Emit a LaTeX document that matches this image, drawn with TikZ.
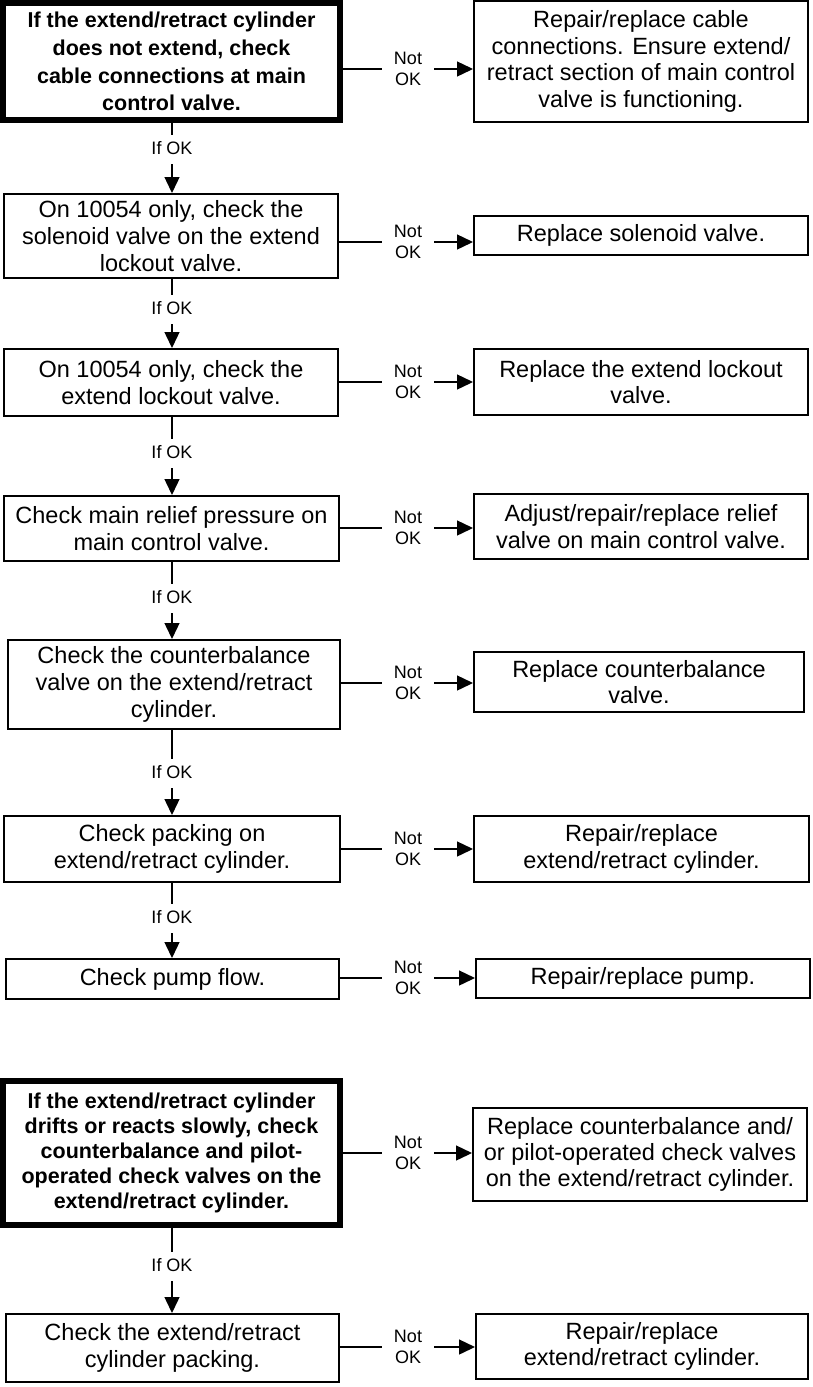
\documentclass[tikz,border=0pt]{standalone}
\usepackage{fontspec}
\setmainfont{Liberation Sans}
\usetikzlibrary{arrows.meta}
\begin{document}
\begin{tikzpicture}[x=1pt,y=-1pt,
  box/.style={draw, line width=2pt, inner sep=0pt, align=center,
    font=\fontsize{23.5}{26.7}\selectfont},
  keybox/.style={box, line width=6pt,
    font=\bfseries\fontsize{21.5}{27.7}\selectfont},
  cond/.style={inner ysep=0pt, inner xsep=12pt, align=center,
    font=\fontsize{18}{21}\selectfont},
  ifok/.style={inner sep=0pt, text height=19.5pt, text depth=9.5pt,
    anchor=base, font=\fontsize{18}{21}\selectfont},
  link/.style={line width=1.4pt},
  flow/.style={link, -{Triangle[length=16pt,width=15pt]}}
]
\useasboundingbox (0,0) rectangle (812,1387);

% ---- main branch: cylinder does not extend ----
\node[keybox, minimum width=337pt, minimum height=117pt] (l1) at (171.5,61.5)
  {If the extend/retract cylinder\\does not extend, check\\cable connections at main\\control valve.};
\node[box, minimum width=334pt, minimum height=121pt] (r1) at (641,61.5)
  {Repair/replace cable\\connections. Ensure extend/\\retract section of main control\\valve is functioning.};

\node[box, minimum width=334pt, minimum height=84pt] (l2) at (171,236)
  {On 10054 only, check the\\solenoid valve on the extend\\lockout valve.};
\node[box, minimum width=334pt, minimum height=39pt] (r2) at (641,235.5)
  {Replace solenoid valve.};

\node[box, minimum width=334pt, minimum height=67pt] (l3) at (171,382.5)
  {On 10054 only, check the\\extend lockout valve.};
\node[box, minimum width=334pt, minimum height=66pt] (r3) at (641,382)
  {Replace the extend lockout\\valve.};

\node[box, minimum width=335pt, minimum height=65pt] (l4) at (171.5,528.5)
  {Check main relief pressure on\\main control valve.};
\node[box, minimum width=334pt, minimum height=65pt] (r4) at (641,526.5)
  {Adjust/repair/replace relief\\valve on main control valve.};

\node[box, minimum width=332pt, minimum height=89pt] (l5) at (174,684.5)
  {Check the counterbalance\\valve on the extend/retract\\cylinder.};
\node[box, minimum width=330pt, minimum height=60pt] (r5) at (639,682)
  {Replace counterbalance\\valve.};

\node[box, minimum width=336pt, minimum height=66pt] (l6) at (172,849)
  {Check packing on\\extend/retract cylinder.};
\node[box, minimum width=335pt, minimum height=66pt] (r6) at (641.5,849)
  {Repair/replace\\extend/retract cylinder.};

\node[box, minimum width=333pt, minimum height=40pt] (l7) at (172.5,979)
  {Check pump flow.};
\node[box, minimum width=334pt, minimum height=39pt] (r7) at (643,978.5)
  {Repair/replace pump.};

% ---- second branch: cylinder drifts ----
\node[keybox, minimum width=337pt, minimum height=144pt,
  font=\bfseries\fontsize{21.5}{25}\selectfont] (l8) at (171.5,1153)
  {If the extend/retract cylinder\\drifts or reacts slowly, check\\counterbalance and pilot-\\operated check valves on the\\extend/retract cylinder.};
\node[box, minimum width=334pt, minimum height=93pt,
  font=\fontsize{23.5}{26}\selectfont] (r8) at (640,1154.5)
  {Replace counterbalance and/\\or pilot-operated check valves\\on the extend/retract cylinder.};

\node[box, minimum width=333pt, minimum height=68pt] (l9) at (172.5,1348)
  {Check the extend/retract\\cylinder packing.};
\node[box, minimum width=332pt, minimum height=65pt] (r9) at (642,1346.5)
  {Repair/replace\\extend/retract cylinder.};

% ---- "Not OK" side exits ----
\foreach \i/\yy in {1/69,2/242,3/382,4/528,5/683,6/849,7/978,8/1153,9/1347}{
  \node[cond] (n\i) at (408,\yy) {Not\\OK};
  \draw[link] (l\i.east |- n\i) -- (n\i.west);
  \draw[flow] (n\i.east) -- (r\i.west |- n\i);
}

% ---- "If OK" downward steps ----
\foreach \a/\b/\yy in {1/2/154.5,2/3/314.5,3/4/458.5,4/5/603.5,5/6/778.5,6/7/923.5,8/9/1271.5}{
  \node[ifok] (k\a) at (172,\yy) {If OK};
  \draw[link] (k\a |- l\a.south) -- (k\a.north);
  \draw[flow] (k\a.south) -- (k\a |- l\b.north);
}
\end{tikzpicture}
\end{document}
